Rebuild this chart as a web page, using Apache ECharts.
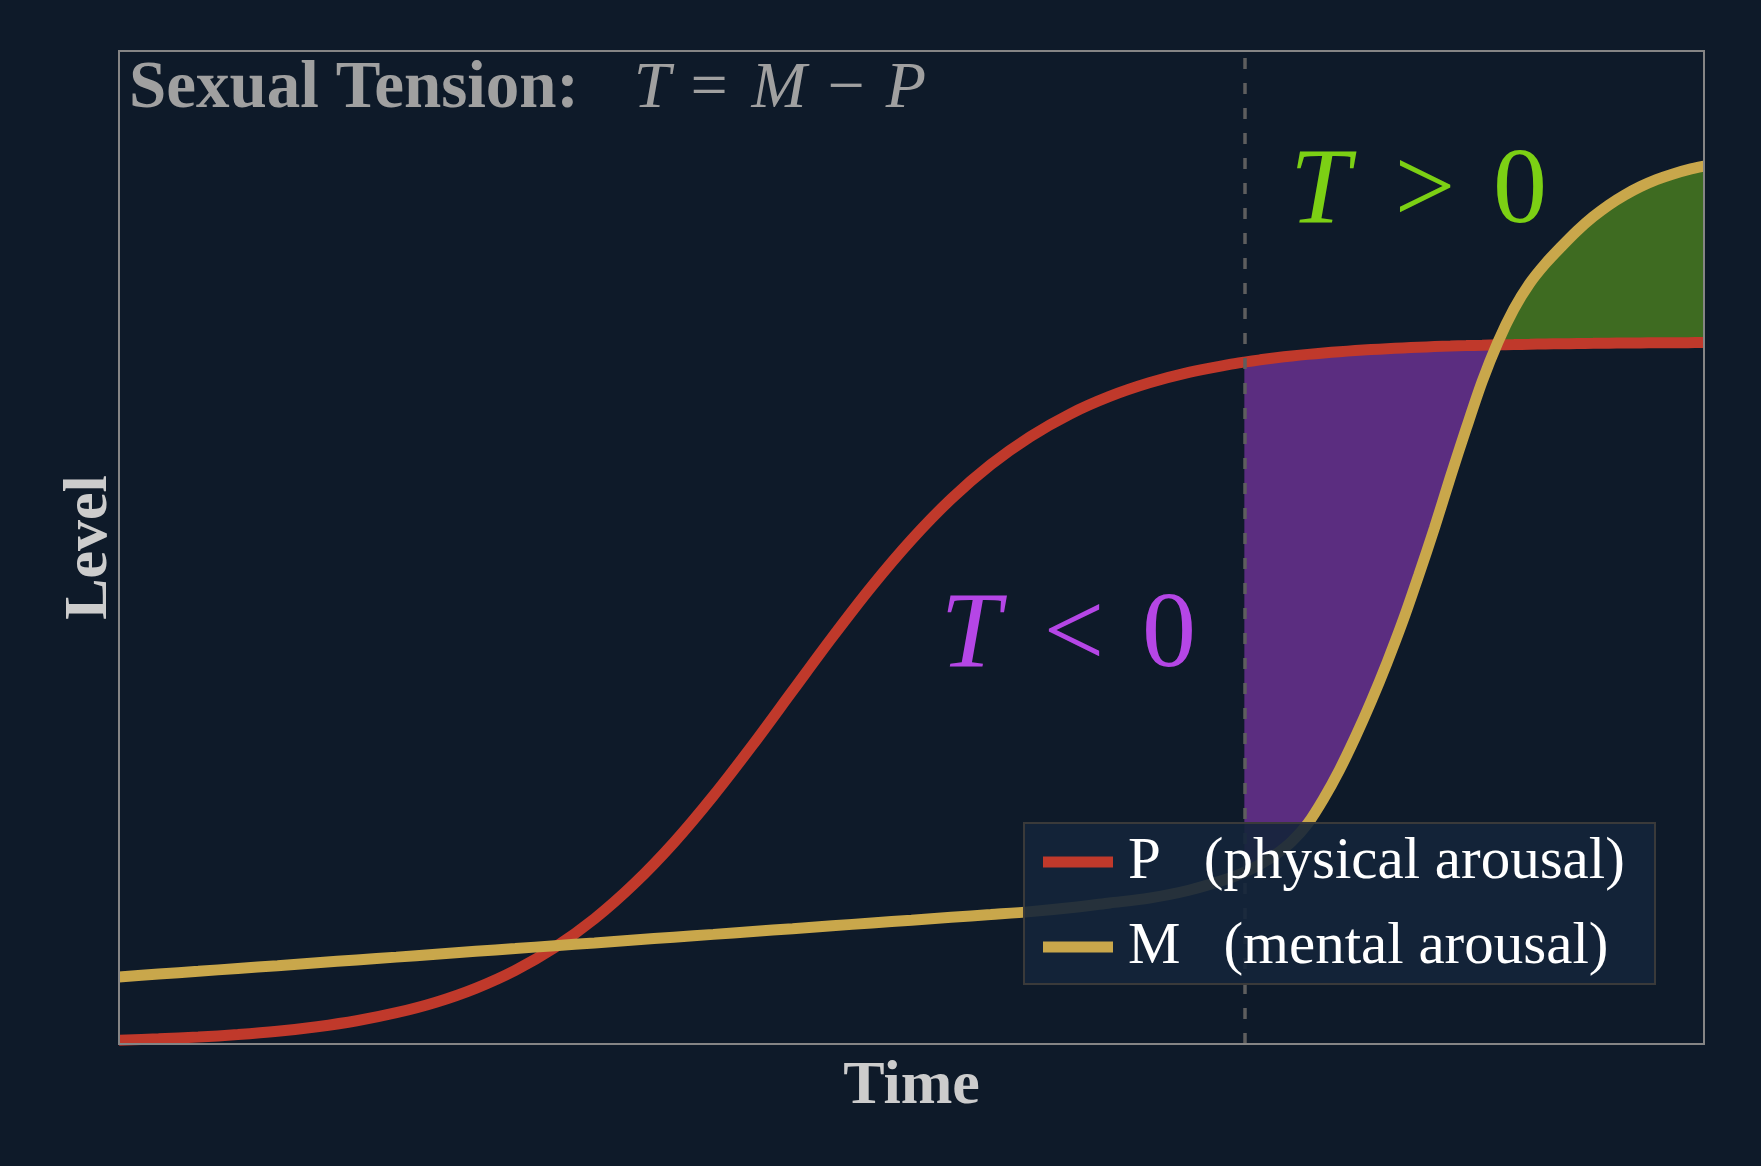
<!DOCTYPE html>
<html>
<head>
<meta charset="utf-8">
<script src="https://cdn.jsdelivr.net/npm/echarts/dist/echarts.min.js"></script>
<style>
html,body{margin:0;padding:0;background:#0e1a29;}
#chart{width:1761px;height:1166px;}
</style>
</head>
<body>
<div id="chart"></div>
<script>
// ---- data ----
const tValues = [
  0, 0.25, 0.5, 0.75, 1, 1.25, 1.5, 1.75, 2, 2.25, 2.5, 2.75, 3, 3.25, 3.5, 3.75,
  4, 4.25, 4.5, 4.75, 5, 5.25, 5.5, 5.75, 6, 6.25, 6.5, 6.75, 7,
  7.1, 7.2, 7.3, 7.4, 7.5, 7.6, 7.7, 7.8, 7.9, 8, 8.1, 8.2, 8.3, 8.4, 8.5, 8.6,
  8.7, 8.8, 8.9, 9, 9.1, 9.2, 9.3, 9.4, 9.5, 9.6, 9.7, 9.8, 9.9, 10
];
const physicalP = [
  0.0038, 0.0052, 0.0070, 0.0095, 0.0128, 0.0174, 0.0234, 0.0315, 0.0421, 0.0561,
  0.0742, 0.0973, 0.1261, 0.1613, 0.2027, 0.2500, 0.3016, 0.3557, 0.4096, 0.4610,
  0.5078, 0.5488, 0.5834, 0.6117, 0.6344, 0.6521, 0.6658, 0.6763, 0.6841,
  0.6867, 0.6890, 0.6911, 0.6929, 0.6945, 0.6959, 0.6972, 0.6983, 0.6993, 0.7002,
  0.7010, 0.7017, 0.7023, 0.7028, 0.7033, 0.7037, 0.7041, 0.7044, 0.7047, 0.7050,
  0.7052, 0.7054, 0.7056, 0.7058, 0.7059, 0.7060, 0.7062, 0.7063, 0.7063, 0.7064
];
const mentalM = [
  0.0675, 0.0704, 0.0732, 0.0761, 0.0789, 0.0818, 0.0847, 0.0875, 0.0904, 0.0933,
  0.0961, 0.0990, 0.1018, 0.1047, 0.1076, 0.1104, 0.1133, 0.1161, 0.1190, 0.1219,
  0.1247, 0.1276, 0.1304, 0.1333, 0.1372, 0.1420, 0.1469, 0.1548, 0.1666,
  0.173, 0.181, 0.191, 0.204, 0.222, 0.247, 0.276, 0.309, 0.345, 0.384,
  0.426, 0.472, 0.520, 0.571, 0.620, 0.667, 0.707, 0.740, 0.766, 0.786,
  0.803, 0.819, 0.833, 0.845, 0.855, 0.8635, 0.8705, 0.876, 0.8805, 0.884
];
const dividerT = 7.1;
const seriesNames = ['P  (physical arousal)', 'M  (mental arousal)'];
const axisNames = ['Time', 'Level'];

// ---- styling ----
const BG = '#0e1a29';
const RED = '#c0392b';
const GOLD = '#c9a74b';
const PURPLE_FILL = '#5b2d80';
const GREEN_FILL = '#3e6b21';
const SERIF = '"Liberation Serif", "Times New Roman", serif';

function tensionFills(params, api) {
  const start = tValues.indexOf(dividerT);
  let j = start;
  while (j < tValues.length && physicalP[j] > mentalM[j]) j++;
  const d0 = physicalP[j - 1] - mentalM[j - 1];
  const d1 = physicalP[j] - mentalM[j];
  const f = d0 / (d0 - d1);
  const tc = tValues[j - 1] + f * (tValues[j] - tValues[j - 1]);
  const vc = physicalP[j - 1] + f * (physicalP[j] - physicalP[j - 1]);
  const purple = [], green = [];
  for (let i = start; i < j; i++) purple.push(api.coord([tValues[i], physicalP[i]]));
  purple.push(api.coord([tc, vc]));
  for (let i = j - 1; i >= start; i--) purple.push(api.coord([tValues[i], mentalM[i]]));
  green.push(api.coord([tc, vc]));
  for (let i = j; i < tValues.length; i++) green.push(api.coord([tValues[i], mentalM[i]]));
  for (let i = tValues.length - 1; i >= j; i--) green.push(api.coord([tValues[i], physicalP[i]]));
  return {
    type: 'group',
    children: [
      { type: 'polygon', shape: { points: purple }, style: { fill: PURPLE_FILL } },
      { type: 'polygon', shape: { points: green }, style: { fill: GREEN_FILL } }
    ]
  };
}

const chart = echarts.init(document.getElementById('chart'), null, { renderer: 'canvas' });

const glyph = (size, italic, color, w) => ({
  fontFamily: SERIF, fontSize: size, fontStyle: italic ? 'italic' : 'normal',
  fill: color, width: w, align: 'center'
});
const gap = (w) => ({ width: w, align: 'center', fontSize: 10, fill: 'rgba(0,0,0,0)' });

const TITLE_GRAY = '#a0a0a0';
const GREEN_TXT = '#7cd014';
const PURPLE_TXT = '#b546e6';

chart.setOption({
  backgroundColor: BG,
  animation: false,
  grid: {
    left: 119, right: 57, top: 51, bottom: 122,
    show: true, z: 20, backgroundColor: 'transparent',
    borderColor: '#858585', borderWidth: 2
  },
  xAxis: {
    type: 'value', min: 0, max: 10,
    name: axisNames[0], nameLocation: 'middle', nameGap: 12,
    nameTextStyle: { color: '#cccccc', fontFamily: SERIF, fontSize: 62, fontWeight: 'bold' },
    axisLine: { show: false }, axisTick: { show: false },
    axisLabel: { show: false }, splitLine: { show: false }
  },
  yAxis: {
    type: 'value', min: 0, max: 1,
    name: axisNames[1], nameLocation: 'middle', nameGap: -1.5,
    nameTextStyle: { color: '#cccccc', fontFamily: SERIF, fontSize: 62, fontWeight: 'bold' },
    axisLine: { show: false }, axisTick: { show: false },
    axisLabel: { show: false }, splitLine: { show: false }
  },
  legend: {
    data: seriesNames,
    orient: 'vertical',
    left: 1043, top: 832,
    padding: 0,
    itemWidth: 70, itemHeight: 11, itemGap: 25,
    icon: 'rect',
    selectedMode: false,
    z: 110,
    formatter: function (name) {
      const parts = name.split('  ');
      return '{s|' + parts[0] + '}{g| }{d|' + parts[1] + '}';
    },
    textStyle: {
      color: '#ffffff', fontFamily: SERIF, fontSize: 59, lineHeight: 60,
      padding: [0, 0, 0, 10],
      rich: {
        s: { color: '#ffffff', fontFamily: SERIF, fontSize: 59, lineHeight: 60 },
        g: { width: 43, fontSize: 10, lineHeight: 60 },
        d: { color: '#ffffff', fontFamily: SERIF, fontSize: 59, lineHeight: 60 }
      }
    }
  },
  graphic: [
    {
      type: 'rect', z: 100, silent: true,
      shape: { x: 1024, y: 823, width: 631, height: 161 },
      style: { fill: 'rgba(20,37,58,0.9)', stroke: '#3a3a3a', lineWidth: 2 }
    },
    {
      type: 'text', z: 100, silent: true,
      style: {
        x: 129, y: 90, verticalAlign: 'middle',
        text: '{b|Sexual Tension:}{s1| }{i|T}{s2| }{o|=}{s3| }{i2|M}{s4| }{o2|\u2212}{s5| }{i3|P}',
        rich: {
          b: { fontFamily: SERIF, fontSize: 67, fontWeight: 'bold', fill: TITLE_GRAY, width: 457 },
          s1: gap(42),
          i: glyph(66, true, TITLE_GRAY, 48),
          s2: gap(12),
          o: glyph(66, false, TITLE_GRAY, 42),
          s3: gap(18),
          i2: glyph(66, true, TITLE_GRAY, 62),
          s4: gap(15),
          o2: glyph(66, false, TITLE_GRAY, 42),
          s5: gap(18),
          i3: glyph(66, true, TITLE_GRAY, 42)
        }
      }
    },
    {
      type: 'text', z: 100, silent: true,
      style: {
        x: 1284, y: 194, verticalAlign: 'middle',
        text: '{i|T}{s| }{o|>}{s2| }{n|0}',
        rich: {
          i: glyph(108, true, GREEN_TXT, 72),
          s: gap(37),
          o: glyph(108, false, GREEN_TXT, 64),
          s2: gap(40),
          n: glyph(108, false, GREEN_TXT, 46)
        }
      }
    },
    {
      type: 'text', z: 100, silent: true,
      style: {
        x: 934, y: 638, verticalAlign: 'middle',
        text: '{i|T}{s| }{o|<}{s2| }{n|0}',
        rich: {
          i: glyph(108, true, PURPLE_TXT, 73),
          s: gap(34),
          o: glyph(108, false, PURPLE_TXT, 66),
          s2: gap(38),
          n: glyph(108, false, PURPLE_TXT, 48)
        }
      }
    }
  ],
  series: [
    {
      type: 'custom',
      name: 'tension',
      renderItem: tensionFills,
      data: [[dividerT, 0]],
      z: 1,
      silent: true
    },
    {
      type: 'line',
      name: seriesNames[0],
      data: tValues.map((t, i) => [t, physicalP[i]]),
      showSymbol: false,
      smooth: 0.3,
      color: RED,
      lineStyle: { color: RED, width: 11 },
      z: 3,
      silent: true,
      markLine: {
        silent: true,
        symbol: ['none', 'none'],
        label: { show: false },
        lineStyle: { color: '#5e5e5e', width: 3.5, type: [11, 14] },
        data: [{ xAxis: dividerT }]
      }
    },
    {
      type: 'line',
      name: seriesNames[1],
      data: tValues.map((t, i) => [t, mentalM[i]]),
      showSymbol: false,
      smooth: 0.3,
      color: GOLD,
      lineStyle: { color: GOLD, width: 11 },
      z: 4,
      silent: true
    }
  ]
});
</script>
</body>
</html>
